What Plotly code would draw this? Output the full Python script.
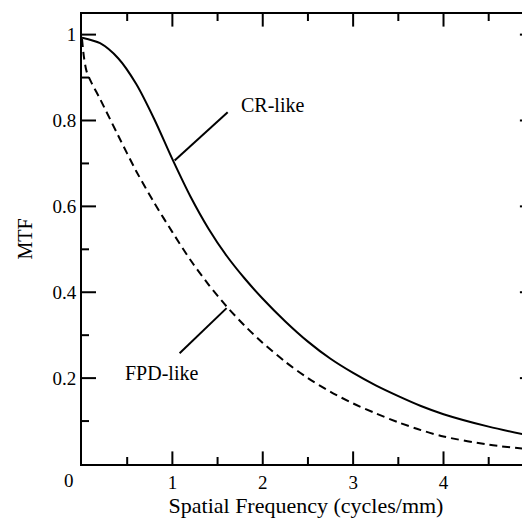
import plotly.graph_objects as go

# values
freq = [0, 0.2, 0.4, 0.6, 0.8, 1.0, 1.2, 1.4, 1.6, 1.8, 2.0, 2.25, 2.5, 2.75,
        3.0, 3.25, 3.5, 3.75, 4.0, 4.5, 5.0]
cr_mtf = [0.993, 0.98, 0.945, 0.885, 0.803, 0.71, 0.623, 0.548, 0.485, 0.432,
          0.385, 0.332, 0.285, 0.245, 0.212, 0.183, 0.158, 0.135, 0.116,
          0.087, 0.064]

fpd_freq = [0, 0.02, 0.05, 0.1, 0.2, 0.4, 0.6, 0.8, 1.0, 1.2, 1.4, 1.6, 1.8,
            2.0, 2.25, 2.5, 2.75, 3.0, 3.25, 3.5, 3.75, 4.0, 4.5, 5.0]
fpd_mtf = [0.99, 0.95, 0.915, 0.89, 0.85, 0.765, 0.682, 0.608, 0.54, 0.475,
           0.418, 0.367, 0.322, 0.282, 0.238, 0.2, 0.168, 0.141, 0.118, 0.097,
           0.079, 0.064, 0.045, 0.033]

x_ticks = [1, 2, 3, 4]
x_minor = [0.5, 1.5, 2.5, 3.5, 4.5]
y_ticks = [0.2, 0.4, 0.6, 0.8, 1]
y_minor = [0.1, 0.3, 0.5, 0.7, 0.9]
y_labels = ['0.2', '0.4', '0.6', '0.8', '1']
x_start, x_end = 0, 5      # right axis sits at 5, just past the page edge
y_start, y_end = 0, 1.048

font = 'Liberation Serif'
black = 'black'

fig = go.Figure()
fig.add_trace(go.Scatter(x=freq, y=cr_mtf, mode='lines', name='CR-like',
                         line=dict(color=black, width=2, shape='spline',
                                   smoothing=0.8)))
fig.add_trace(go.Scatter(x=fpd_freq, y=fpd_mtf, mode='lines', name='FPD-like',
                         line=dict(color=black, width=2, shape='spline',
                                   smoothing=0.8, dash='8px,5px')))


# inside ticks: line markers centred on the axes, the outer half clipped away
def tick_marks(xs, ys, symbol, size):
    fig.add_trace(go.Scatter(x=xs, y=ys, mode='markers', hoverinfo='skip',
                             cliponaxis=True,
                             marker=dict(symbol=symbol, size=size, color=black,
                                         line=dict(color=black, width=2))))


for vals, ln in [(x_ticks, 9), (x_minor, 5)]:
    tick_marks(vals, [y_start] * len(vals), 'line-ns', 2 * ln)
    tick_marks(vals, [y_end] * len(vals), 'line-ns', 2 * ln)
for vals, ln in [(y_ticks, 10), (y_minor, 5)]:
    tick_marks([x_start] * len(vals), vals, 'line-ew', 2 * ln)
    tick_marks([x_end] * len(vals), vals, 'line-ew', 2 * ln)

# leader lines for the curve labels
fig.add_shape(type='line', x0=1.025, y0=0.707, x1=1.612, y1=0.819,
              line=dict(color=black, width=2))
fig.add_shape(type='line', x0=1.08, y0=0.258, x1=1.6, y1=0.363,
              line=dict(color=black, width=2))
fig.add_annotation(x=1.735, y=0.835, text='CR-like', showarrow=False,
                   xanchor='left', font=dict(family=font, size=20, color=black))
fig.add_annotation(x=0.876, y=0.212, text='FPD-like', showarrow=False,
                   font=dict(family=font, size=20, color=black))
fig.add_annotation(x=0, y=0, xref='paper', yref='paper', text='0',
                   showarrow=False, xanchor='center', yanchor='middle',
                   xshift=-13, yshift=-16,
                   font=dict(family=font, size=19, color=black))

fig.update_xaxes(range=[x_start, 4.957], tickmode='array', tickvals=x_ticks,
                 ticks='', showline=True, linewidth=2, linecolor=black,
                 mirror=True, showgrid=False, zeroline=False, automargin=False,
                 tickfont=dict(family=font, size=19, color=black),
                 title=dict(text='Spatial Frequency (cycles/mm)', standoff=6,
                            font=dict(family=font, size=22, color=black)))
fig.update_yaxes(range=[y_start, y_end], tickmode='array', tickvals=y_ticks,
                 ticktext=y_labels, ticks='', showline=True, linewidth=2,
                 linecolor=black, mirror=False, showgrid=False,
                 zeroline=False, automargin=False,
                 tickfont=dict(family=font, size=19, color=black),
                 title=dict(text='MTF', standoff=14,
                            font=dict(family=font, size=20, color=black)))

# the page adds an 8px body margin, so the figure is 8px smaller each way
fig.update_layout(width=522, height=511, showlegend=False,
                  plot_bgcolor='white', paper_bgcolor='white',
                  margin=dict(l=74, r=0, t=6, b=55))

fig.write_html("out.html")
